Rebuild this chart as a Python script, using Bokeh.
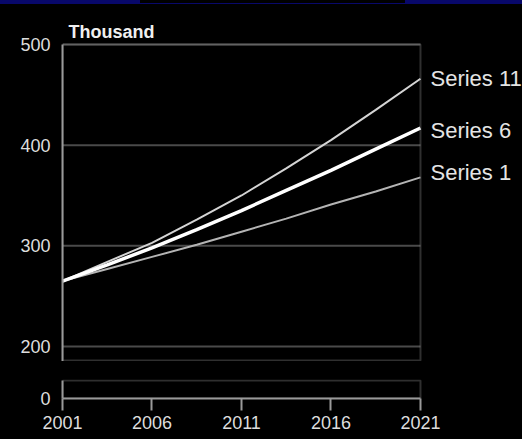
from bokeh.plotting import figure
from bokeh.models import Label, FixedTicker, Range1d, BoxAnnotation, Div
from bokeh.layouts import column
from bokeh.embed import file_html
from bokeh.resources import INLINE

# ---- data ----
years = [2001, 2003.5, 2006, 2008.5, 2011, 2013.5, 2016, 2018.5, 2021]
series_1 = [265, 277, 289, 301, 314, 327, 341, 354, 368]
series_6 = [265, 281, 298, 316, 335, 355, 375, 396, 417]
series_11 = [265, 284, 303, 326, 350, 377, 405, 435, 466]
y_ticks = [200, 300, 400, 500]
x_ticks = [2001, 2006, 2011, 2016, 2021]
lower_ticks = [0]
unit_label = "Thousand"
series_labels = ["Series 11", "Series 6", "Series 1"]

FONT = "Liberation Sans"
BG = "black"
FRAME = "#9a9a9a"
GRID = "#4a4a4a"
TXT = "#dddddd"
BLUE = "#08086a"

# thin blue strip at the very top of the slide
strip = Div(
    width=522, height=4, margin=(0, 0, 0, 0),
    styles={
        "background-image": (f"linear-gradient(to right, {BLUE} 0px, {BLUE} 140px, #000 140px, "
                             f"#000 405px, {BLUE} 405px, {BLUE} 522px)"),
        "box-shadow": f"inset 0 -1px 0 {BLUE}",
    },
    text="",
)

# shared x range: frame extends to the right edge so the labels are not clipped
x_lo, x_hi = x_ticks[0], 2026.7
y_lo, y_hi = 185.1, 539.7

top = figure(
    width=522, height=357,
    x_range=Range1d(x_lo, x_hi), y_range=Range1d(y_lo, y_hi),
    output_backend="svg", toolbar_location=None, x_axis_location=None,
    min_border_top=0, min_border_left=62, min_border_right=0, min_border_bottom=0,
    background_fill_color=BG, border_fill_color=BG, outline_line_color=None,
)
top.grid.grid_line_color = None
top.yaxis.ticker = FixedTicker(ticks=y_ticks)
for ax in top.yaxis:
    ax.bounds = (y_lo, y_ticks[-1])
    ax.axis_line_color = FRAME
    ax.axis_line_width = 2
    ax.major_tick_out = 0
    ax.major_tick_in = 0
    ax.minor_tick_out = 0
    ax.minor_tick_in = 0
    ax.major_label_standoff = 12
    ax.major_label_text_color = TXT
    ax.major_label_text_font = FONT
    ax.major_label_text_font_size = "18px"

# horizontal gridlines limited to the plotting box
top.segment(x0=[x_ticks[0]] * len(y_ticks), x1=[x_ticks[-1]] * len(y_ticks),
            y0=y_ticks, y1=y_ticks, line_color=GRID, line_width=2)

top.add_layout(BoxAnnotation(
    left=x_ticks[0], right=x_ticks[-1], bottom=y_lo + 1, top=y_ticks[-1],
    fill_alpha=0, line_color=FRAME, line_width=2,
))

top.line(years, series_1, line_color="#b4b4b4", line_width=2)
top.line(years, series_11, line_color="#d4d4d4", line_width=2)
top.line(years, series_6, line_color="#ffffff", line_width=3.5)

for name, vals, dy in zip(series_labels, (series_11, series_6, series_1), (0, -2, 5)):
    top.add_layout(Label(
        x=years[-1], y=vals[-1], x_offset=10, y_offset=dy, text=name,
        text_baseline="middle", text_align="left",
        text_font=FONT, text_font_size="22px", text_color="#e4e4e4",
    ))

top.add_layout(Label(
    x=x_ticks[0], y=y_ticks[-1], x_offset=6, y_offset=12, text=unit_label,
    text_baseline="alphabetic", text_align="left",
    text_font=FONT, text_font_size="18px", text_font_style="bold", text_color="#f0f0f0",
))

# lower panel (broken axis showing 0)
b_lo, b_hi = 0, 19
bottom = figure(
    width=522, height=78,
    x_range=top.x_range, y_range=Range1d(b_lo, b_hi),
    output_backend="svg", toolbar_location=None,
    min_border_top=18, min_border_left=62, min_border_right=0, min_border_bottom=41,
    background_fill_color=BG, border_fill_color=BG, outline_line_color=None,
)
bottom.grid.grid_line_color = None
bottom.add_layout(BoxAnnotation(
    left=x_ticks[0], right=x_ticks[-1], bottom=b_lo, top=b_hi - 1,
    fill_alpha=0, line_color=FRAME, line_width=2,
))
bottom.xaxis.ticker = FixedTicker(ticks=x_ticks)
bottom.yaxis.ticker = FixedTicker(ticks=lower_ticks)
for ax in list(bottom.xaxis) + list(bottom.yaxis):
    ax.axis_line_color = FRAME
    ax.axis_line_width = 2
    ax.major_tick_in = 0
    ax.minor_tick_out = 0
    ax.minor_tick_in = 0
    ax.major_tick_line_color = FRAME
    ax.major_tick_line_width = 2
    ax.major_label_text_color = TXT
    ax.major_label_text_font = FONT
    ax.major_label_text_font_size = "18px"
for ax in bottom.xaxis:
    ax.bounds = (x_ticks[0], x_ticks[-1])
    ax.major_tick_out = 12
    ax.major_label_standoff = 5
for ax in bottom.yaxis:
    ax.bounds = (b_lo, b_hi - 1)
    ax.major_tick_out = 0
    ax.major_label_standoff = 12

layout = column(strip, top, bottom, spacing=0)
layout.styles = {"background-color": "black"}

open("out.html", "w").write(file_html(layout, INLINE))
